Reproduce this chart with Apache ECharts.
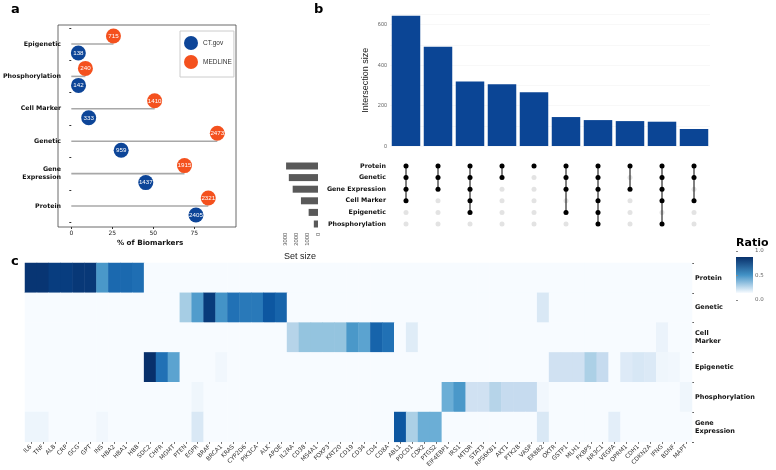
<!DOCTYPE html>
<html><head><meta charset="utf-8">
<script src="https://cdn.jsdelivr.net/npm/echarts@6/dist/echarts.min.js"></script>
<style>html,body{margin:0;padding:0;background:#fff}#c{width:776px;height:470px}</style>
</head><body><div id="c"></div>
<script>
// ---------- Panel a ----------
const aCategories = ['Epigenetic','Phosphorylation','Cell Marker','Genetic','Gene\nExpression','Protein'];
const aCtPct = [4.3, 4.4, 10.6, 30.4, 45.4, 76.0];
const aCtCount = [138, 142, 333, 959, 1437, 2405];
const aMedPct = [25.7, 8.6, 50.8, 89.0, 69.0, 83.5];
const aMedCount = [715, 240, 1410, 2473, 1915, 2321];
const aTicks = [0, 25, 50, 75];

// ---------- Panel b ----------
const bSets = ['Protein','Genetic','Gene Expression','Cell Marker','Epigenetic','Phosphorylation'];
const bSetSize = [2900, 2650, 2300, 1550, 850, 380];
const bInterSize = [643, 490, 318, 305, 266, 143, 128, 123, 120, 84];
const bInterMembers = [[0,1,2,3],[0,1,2],[0,1,2,3,4],[0,1],[0],[0,1,2,4],[0,1,2,3,4,5],[0,2],[0,1,2,3,5],[0,1,3]];
const bYTicks = [0, 200, 400, 600];
const bSetTicks = [0, 1000, 2000, 3000];

// ---------- Panel c ----------
const cGenes = ['IL6','TNF','ALB','CRP','GCG','GPT','INS','HBA2','HBA1','HBB',
  'SDC2','CHFR','MGMT','PTEN','EGFR','BRAF','BRCA1','KRAS','CYP2D6','PIK3CA',
  'ALK','APOE','IL2RA','CD38','MS4A1','FOXP3','KRT20','CD19','CD34','CD4',
  'CD8A','ABL1','PDCD1','COX2','PTGS2','EIF4EBP1','IRS1','MTOR','STAT3','RPS6KB1',
  'AKT1','PTK2B','VASP','ERBB2','OXTR','GSTP1','MLH1','FKBP5','NR3C1','VEGFA',
  'OPRM1','CDH1','CDKN2A','IFNG','BDNF','MAPT'];
const cRows = ['Protein','Genetic','Cell\nMarker','Epigenetic','Phosphorylation','Gene\nExpression'];
const cProtein = [0.98,0.98,0.95,0.95,0.97,0.97,0.6,0.78,0.78,0.76,
  0,0,0,0,0,0,0,0,0,0, 0,0,0,0,0,0,0,0,0,0, 0,0,0,0,0,0,0,0,0,0, 0,0,0,0,0,0,0,0,0,0, 0,0,0,0,0,0];
const cGenetic = [0,0,0,0,0,0,0,0,0,0,
  0,0,0,0.35,0.58,0.96,0.62,0.75,0.72,0.72,
  0.85,0.8,0,0,0,0,0,0,0,0,
  0,0,0,0,0,0,0,0,0,0,
  0,0,0,0.15,0,0,0,0,0,0,
  0,0,0,0,0,0];
const cCellMarker = [0,0,0,0,0,0,0,0,0,0,
  0,0,0,0,0,0,0,0,0,0,
  0,0,0.3,0.4,0.4,0.4,0.4,0.6,0.55,0.8,
  0.75,0,0.12,0,0,0,0,0,0,0,
  0,0,0,0,0,0,0,0,0,0,
  0,0,0,0.06,0,0];
const cEpigenetic = [0,0,0,0,0,0,0,0,0,0,
  1.0,0.75,0.55,0,0,0,0.03,0,0,0,
  0,0,0,0,0,0,0,0,0,0,
  0,0,0,0,0,0,0,0,0,0,
  0,0,0,0,0.2,0.2,0.2,0.33,0.25,0,
  0.13,0.16,0.14,0.04,0.03,0];
const cPhospho = [0,0,0,0,0,0,0,0,0,0,
  0,0,0,0,0.04,0,0,0,0,0,
  0,0,0,0,0,0,0,0,0,0,
  0,0,0,0,0,0.5,0.6,0.2,0.2,0.3,
  0.25,0.25,0.25,0.03,0,0,0,0,0,0,
  0,0,0,0,0,0.04];
const cGeneExpr = [0.05,0.05,0,0,0,0,0.03,0,0,0,
  0,0,0,0,0.15,0,0,0,0,0,
  0,0,0,0,0,0,0,0,0,0,
  0,0.85,0.33,0.5,0.5,0,0,0,0,0,
  0,0,0,0.15,0,0,0,0,0,0.1,
  0,0,0,0,0,0];
const cMatrix = [cProtein, cGenetic, cCellMarker, cEpigenetic, cPhospho, cGeneExpr];
const cRatioTicks = [0, 0.5, 1];

const blues = ['#f7fbff','#deebf7','#c6dbef','#9ecae1','#6baed6','#4292c6','#2171b5','#08519c','#08306b'];
const BOLD = {fontFamily:'DejaVu Sans', fontWeight:'bold', color:'#111'};

const heatData = [];
cMatrix.forEach((row, r) => row.forEach((v, g) => heatData.push([g, r, v])));

const gridDots = [];
bSets.forEach((s, r) => bInterSize.forEach((v, c) => gridDots.push([c, r])));
const activeDots = [];
bInterMembers.forEach((m, c) => m.forEach(r => activeDots.push([c, r])));
const linkData = bInterMembers.map((m, c) => [c, Math.min(...m), Math.max(...m)]);

const chart = echarts.init(document.getElementById('c'), null, {renderer:'canvas'});
chart.setOption({
  animation: false,
  backgroundColor: '#fff',
  title: [
    {text:'a', left:6, top:-2, textStyle:{fontSize:13, fontWeight:'bold', fontFamily:'DejaVu Sans', color:'#000'}},
    {text:'b', left:309, top:-2, textStyle:{fontSize:13, fontWeight:'bold', fontFamily:'DejaVu Sans', color:'#000'}},
    {text:'c', left:6, top:250, textStyle:{fontSize:13, fontWeight:'bold', fontFamily:'DejaVu Sans', color:'#000'}},
    {text:'Ratio', left:731, top:233, textStyle:{fontSize:11, fontWeight:'bold', fontFamily:'DejaVu Sans', color:'#000'}}
  ],
  legend: {
    data: ['CT.gov','MEDLINE'], left:180, top:31, orient:'vertical', icon:'circle',
    itemWidth:14, itemHeight:14, itemGap:5, padding:[5,2,8,4],
    borderColor:'#cccccc', borderWidth:1,
    textStyle:{fontSize:6.5, color:'#333', fontFamily:'Liberation Sans'}
  },
  grid: [
    {left:58, top:27.8, width:178, height:194.4},
    {left:390, top:14.4, width:320, height:131.6},
    {left:390, top:160.2, width:320, height:69.6},
    {left:282, top:160.2, width:36, height:69.6},
    {left:25, top:263, width:667, height:179},
    {left:736, top:251, width:17, height:49}
  ],
  xAxis: [
    {gridIndex:0, type:'value', min:-4.4, max:100.4, offset:4.8,
      axisLine:{show:false}, splitLine:{show:false},
      axisTick:{show:true, length:2, customValues:aTicks, lineStyle:{color:'#333'}},
      axisLabel:{customValues:aTicks, fontSize:6, color:'#222', fontFamily:'DejaVu Sans', margin:3},
      name:'% of Biomarkers', nameLocation:'middle', nameGap:13,
      nameTextStyle:{fontSize:7.2, fontWeight:'bold', fontFamily:'DejaVu Sans', color:'#111'}},
    {gridIndex:1, type:'category', data:bInterSize.map((v,i)=>i), show:false},
    {gridIndex:2, type:'category', data:bInterSize.map((v,i)=>i), show:false},
    {gridIndex:3, type:'value', inverse:true, min:0, max:3270,
      axisLine:{show:false}, axisTick:{show:false}, splitLine:{show:false},
      axisLabel:{customValues:bSetTicks, formatter:v=>String(v), rotate:90, fontSize:5.8, color:'#555', fontFamily:'Liberation Sans', margin:3},
      name:'Set size', nameLocation:'middle', nameGap:22,
      nameTextStyle:{fontSize:9, color:'#222', fontFamily:'Liberation Sans'}},
    {gridIndex:4, type:'category', data:cGenes,
      axisLine:{show:false}, splitLine:{show:false},
      axisTick:{show:true, length:2, alignWithLabel:true, lineStyle:{color:'#666'}},
      axisLabel:{interval:0, rotate:45, fontSize:6, color:'#333', fontFamily:'DejaVu Sans', margin:4}},
    {gridIndex:5, type:'value', min:0, max:1, show:false}
  ],
  yAxis: [
    {gridIndex:0, type:'category', data:aCategories, inverse:true,
      axisLine:{show:false}, axisTick:{show:true, length:2, lineStyle:{color:'#333'}},
      axisLabel:Object.assign({fontSize:6.3, margin:3, lineHeight:8}, BOLD)},
    {gridIndex:1, type:'value', min:0, max:650,
      axisLine:{show:false}, axisTick:{show:false},
      splitLine:{show:true, lineStyle:{color:'#f3f3f3', width:0.6}},
      axisLabel:{customValues:bYTicks, fontSize:5.5, color:'#666', fontFamily:'Liberation Sans', margin:3},
      name:'Intersection size', nameLocation:'middle', nameGap:20,
      nameTextStyle:{fontSize:9, color:'#222', fontFamily:'Liberation Sans'}},
    {gridIndex:2, type:'category', data:bSets, inverse:true,
      axisLine:{show:false}, axisTick:{show:false},
      axisLabel:Object.assign({fontSize:6.3, margin:4}, BOLD)},
    {gridIndex:3, type:'category', data:bSets, inverse:true, show:false},
    {gridIndex:4, type:'category', data:cRows, inverse:true, position:'right',
      axisLine:{show:false}, axisTick:{show:true, length:2, lineStyle:{color:'#666'}},
      axisLabel:Object.assign({fontSize:6.5, margin:3, lineHeight:8}, BOLD)},
    {gridIndex:5, type:'value', min:0, max:1, position:'right',
      axisLine:{show:false}, splitLine:{show:false},
      axisTick:{show:true, length:2, customValues:cRatioTicks, lineStyle:{color:'#888'}},
      axisLabel:{customValues:cRatioTicks, formatter:v=>v.toFixed(1), fontSize:5.5, color:'#666', fontFamily:'DejaVu Sans', margin:2}}
  ],
  visualMap: {show:false, seriesIndex:8, min:0, max:1, dimension:2, inRange:{color:blues}},
  graphic: [
    {type:'rect', shape:{x:58, y:25, width:178, height:202}, style:{fill:'none', stroke:'#444', lineWidth:0.8}, z:0},
    {type:'rect', shape:{x:736, y:257, width:17, height:36},
      style:{fill:new echarts.graphic.LinearGradient(0,0,0,1,[{offset:0,color:'#08306b'},{offset:0.5,color:'#4292c6'},{offset:1,color:'#f7fbff'}])}}
  ],
  series: [
    {type:'bar', xAxisIndex:0, yAxisIndex:0, data:aMedPct, barWidth:1.6, itemStyle:{color:'#a8a8a8'}, z:1, silent:true},
    {name:'CT.gov', type:'scatter', xAxisIndex:0, yAxisIndex:0, data:aCtPct.map((v,i)=>[v,i]),
      symbolSize:15, symbolOffset:[0,9], itemStyle:{color:'#0d4598', opacity:1}, z:3,
      label:{show:true, position:'inside', color:'#fff', fontSize:6.2, fontFamily:'Liberation Sans', formatter:p=>aCtCount[p.dataIndex]}},
    {name:'MEDLINE', type:'scatter', xAxisIndex:0, yAxisIndex:0, data:aMedPct.map((v,i)=>[v,i]),
      symbolSize:15, symbolOffset:[0,-8], itemStyle:{color:'#f4511e', opacity:1}, z:3,
      label:{show:true, position:'inside', color:'#fff', fontSize:6.2, fontFamily:'Liberation Sans', formatter:p=>aMedCount[p.dataIndex]}},
    {type:'bar', xAxisIndex:1, yAxisIndex:1, data:bInterSize, barWidth:28.5, itemStyle:{color:'#0b4595'}},
    {type:'scatter', xAxisIndex:2, yAxisIndex:2, data:gridDots, symbolSize:5, itemStyle:{color:'#e3e3e3', opacity:1}, z:1, silent:true},
    {type:'scatter', xAxisIndex:2, yAxisIndex:2, data:activeDots, symbolSize:5, itemStyle:{color:'#000', opacity:1}, z:3, silent:true},
    {type:'custom', xAxisIndex:2, yAxisIndex:2, data:linkData, encode:{x:0, y:[1,2]}, z:2, silent:true,
      renderItem:(params, api) => {
        const p1 = api.coord([api.value(0), api.value(1)]);
        const p2 = api.coord([api.value(0), api.value(2)]);
        return {type:'line', shape:{x1:p1[0], y1:p1[1], x2:p2[0], y2:p2[1]}, style:{stroke:'#000', lineWidth:1}};
      }},
    {type:'bar', xAxisIndex:3, yAxisIndex:3, data:bSetSize, barWidth:7, itemStyle:{color:'#595959'}},
    {type:'heatmap', xAxisIndex:4, yAxisIndex:4, data:heatData, itemStyle:{borderWidth:0}}
  ]
});
</script></body></html>
